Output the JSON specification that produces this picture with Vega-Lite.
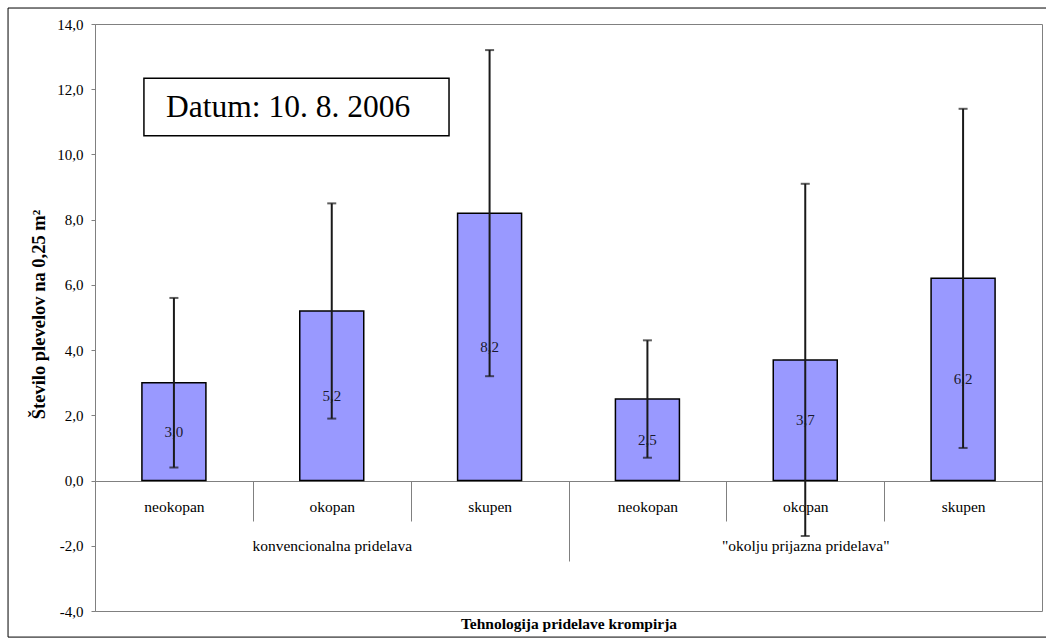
{
  "$schema": "https://vega.github.io/schema/vega-lite/v6.json",
  "width": 947,
  "height": 587,
  "autosize": {"type": "none"},
  "padding": {"left": 95, "top": 24, "right": 4, "bottom": 33},
  "background": "white",
  "config": {
    "view": {"stroke": "#808080", "strokeWidth": 1},
    "font": "Liberation Serif, Times New Roman, serif",
    "text": {"font": "Liberation Serif, Times New Roman, serif"},
    "axis": {
      "labelFont": "Liberation Serif, Times New Roman, serif",
      "titleFont": "Liberation Serif, Times New Roman, serif",
      "labelColor": "#000000",
      "titleColor": "#000000",
      "domainColor": "#808080",
      "tickColor": "#808080",
      "grid": false
    },
    "locale": {"number": {"decimal": ",", "thousands": ".", "grouping": [3], "currency": ["", " €"], "minus": "-"}}
  },
  "datasets": {
    "weeds": [
      {"group": "konvencionalna pridelava", "treatment": "neokopan", "bar": "1|neokopan", "mean": 3.0, "lower": 0.4, "upper": 5.6},
      {"group": "konvencionalna pridelava", "treatment": "okopan", "bar": "2|okopan", "mean": 5.2, "lower": 1.9, "upper": 8.5},
      {"group": "konvencionalna pridelava", "treatment": "skupen", "bar": "3|skupen", "mean": 8.2, "lower": 3.2, "upper": 13.2},
      {"group": "\"okolju prijazna pridelava\"", "treatment": "neokopan", "bar": "4|neokopan", "mean": 2.5, "lower": 0.7, "upper": 4.3},
      {"group": "\"okolju prijazna pridelava\"", "treatment": "okopan", "bar": "5|okopan", "mean": 3.7, "lower": -1.7, "upper": 9.1},
      {"group": "\"okolju prijazna pridelava\"", "treatment": "skupen", "bar": "6|skupen", "mean": 6.2, "lower": 1.0, "upper": 11.4}
    ],
    "note": [{"label": "Datum: 10. 8. 2006"}]
  },
  "layer": [
    {
      "data": {"name": "weeds"},
      "mark": {"type": "bar", "size": 64, "fill": "#9999ff", "stroke": "#000000", "strokeWidth": 1.5},
      "encoding": {
        "x": {
          "field": "bar", "type": "nominal", "sort": null,
          "scale": {"paddingInner": 0, "paddingOuter": 0},
          "axis": {
            "orient": "bottom", "offset": -130,
            "title": "Tehnologija pridelave krompirja",
            "titleFontSize": 15.5, "titleFontWeight": "bold", "titleY": 142, "titleBaseline": "middle",
            "tickBand": "extent", "tickSize": 40, "labelPadding": -22,
            "labelAngle": 0, "labelFontSize": 15.5,
            "labelExpr": "split(datum.label, '|')[1]"
          }
        },
        "y": {
          "field": "mean", "type": "quantitative",
          "scale": {"domain": [-4, 14], "nice": false},
          "axis": {
            "title": "Število plevelov na  0,25 m²",
            "titleFontSize": 18.5, "titleFontWeight": "bold",
            "titleX": -57, "titleY": 290, "titleBaseline": "middle", "titleAngle": -90,
            "values": [-4, -2, 0, 2, 4, 6, 8, 10, 12, 14],
            "format": ".1f", "tickSize": 4, "labelPadding": 8, "labelFontSize": 15
          }
        }
      }
    },
    {
      "data": {"name": "weeds"},
      "mark": {"type": "text", "fontSize": 15, "color": "#1a1a2e", "baseline": "middle", "align": "center"},
      "encoding": {
        "x": {"field": "bar", "type": "nominal", "sort": null, "scale": {"paddingInner": 0, "paddingOuter": 0}, "axis": null},
        "y": {"field": "mean", "type": "quantitative", "scale": {"domain": [-8, 28], "nice": false, "zero": false}, "axis": null},
        "text": {"field": "mean", "type": "quantitative", "format": ".1f"}
      }
    },
    {
      "data": {"name": "weeds"},
      "layer": [
        {
          "mark": {"type": "rule", "color": "#1a1a1a", "strokeWidth": 2},
          "encoding": {
            "y": {"field": "lower", "type": "quantitative", "scale": {"domain": [-4, 14], "nice": false, "zero": false}, "axis": null},
            "y2": {"field": "upper"}
          }
        },
        {
          "mark": {"type": "tick", "color": "#1a1a1a", "size": 9, "thickness": 2},
          "encoding": {"y": {"field": "lower", "type": "quantitative", "axis": null}}
        },
        {
          "mark": {"type": "tick", "color": "#1a1a1a", "size": 9, "thickness": 2},
          "encoding": {"y": {"field": "upper", "type": "quantitative", "axis": null}}
        }
      ],
      "encoding": {
        "x": {"field": "bar", "type": "nominal", "sort": null, "scale": {"paddingInner": 0, "paddingOuter": 0}, "axis": null}
      }
    },
    {
      "data": {"name": "weeds"},
      "mark": {"type": "point", "opacity": 0},
      "encoding": {
        "x": {
          "field": "group", "type": "nominal", "sort": null,
          "scale": {"paddingInner": 0, "paddingOuter": 0},
          "axis": {
            "orient": "bottom", "offset": -130, "title": null, "domain": false,
            "tickBand": "extent", "tickSize": 80, "labelPadding": -23,
            "labelAngle": 0, "labelFontSize": 15.5
          }
        },
        "y": {"datum": 0, "type": "quantitative", "scale": {"domain": [-4, 14], "nice": false}, "axis": null}
      }
    },
    {
      "data": {"name": "note"},
      "layer": [
        {
          "mark": {"type": "rect", "fill": null, "fillOpacity": 0, "stroke": "#000000", "strokeWidth": 1},
          "encoding": {
            "x": {"datum": -0.551, "type": "quantitative", "scale": {"domain": [0, 6], "nice": false, "zero": false}, "axis": null},
            "x2": {"datum": 6.3},
            "y": {"datum": 14.49, "type": "quantitative", "scale": {"domain": [-4, 14], "nice": false, "zero": false}, "axis": null},
            "y2": {"datum": -4.8}
          }
        },
        {
          "mark": {"type": "rect", "fill": "#ffffff", "stroke": "#000000", "strokeWidth": 1.5},
          "encoding": {
            "x": {"datum": 0.31, "type": "quantitative", "axis": null},
            "x2": {"datum": 2.243},
            "y": {"datum": 12.34, "type": "quantitative", "axis": null},
            "y2": {"datum": 10.57}
          }
        },
        {
          "mark": {"type": "text", "fontSize": 31.5, "align": "left", "baseline": "alphabetic", "color": "#000000"},
          "encoding": {
            "x": {"datum": 0.45, "type": "quantitative", "axis": null},
            "y": {"datum": 11.15, "type": "quantitative", "axis": null},
            "text": {"field": "label", "type": "nominal"}
          }
        }
      ]
    }
  ],
  "resolve": {
    "scale": {"x": "independent", "y": "independent"},
    "axis": {"x": "independent", "y": "independent"}
  }
}
